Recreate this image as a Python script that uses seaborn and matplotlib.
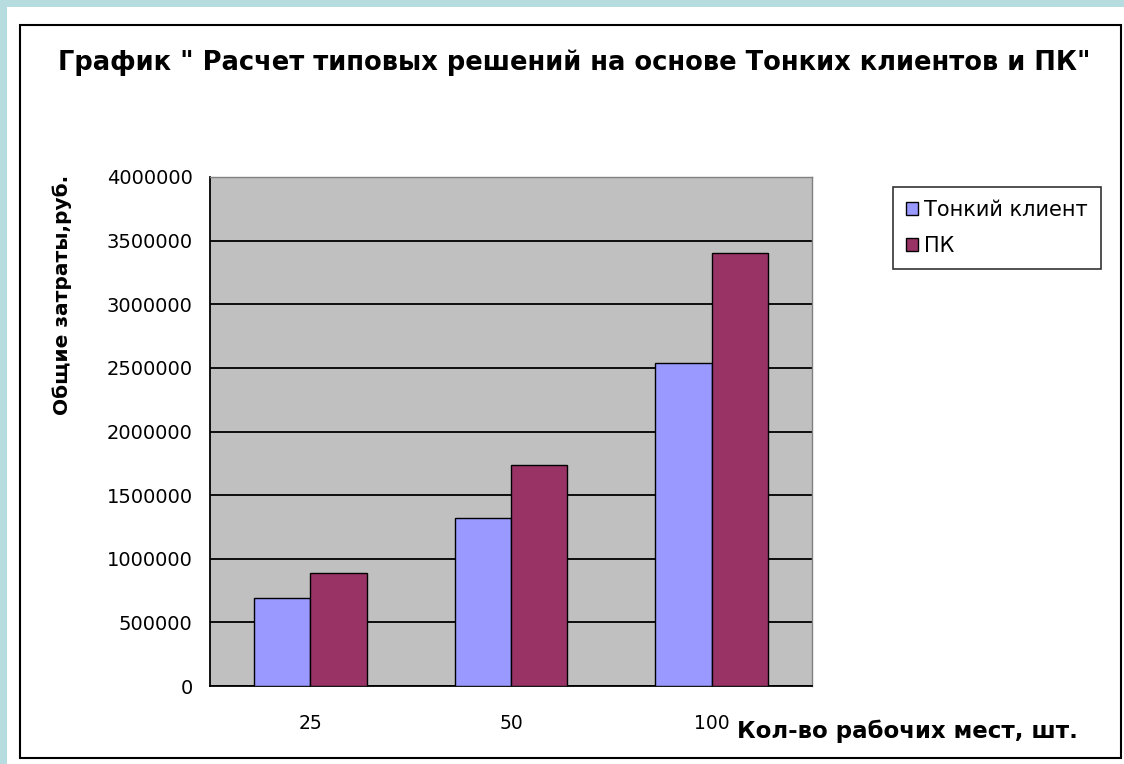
import matplotlib
matplotlib.use("Agg")
import matplotlib.pyplot as plt
import pandas as pd
import seaborn as sns
from matplotlib.patches import Rectangle
from matplotlib.ticker import FixedLocator

# data
places = ["25", "50", "100"]
thin_client = [690000, 1320000, 2540000]
pc = [890000, 1740000, 3400000]
series_names = ["Тонкий клиент", "ПК"]
colors = ["#9999FF", "#993366"]
y_ticks = list(range(0, 4000001, 500000))

df = pd.DataFrame({
    "places": places * 2,
    "cost": thin_client + pc,
    "type": [series_names[0]] * 3 + [series_names[1]] * 3,
})

sns.set_style("white")
plt.rcParams["font.family"] = ["DejaVu Sans"]
plt.rcParams["text.color"] = "black"
plt.rcParams["xtick.color"] = "black"
plt.rcParams["ytick.color"] = "black"

W, H = 1124, 764
fig = plt.figure(figsize=(W / 100, H / 100), dpi=100, facecolor="white")

# teal page strips and the black chart frame
fig.patches.append(Rectangle((0, 0), 7 / W, 1, transform=fig.transFigure,
                             facecolor="#B7DCE0", edgecolor="none", zorder=0))
fig.patches.append(Rectangle((0, 1 - 7 / H), 1, 7 / H, transform=fig.transFigure,
                             facecolor="#B7DCE0", edgecolor="none", zorder=0))
fig.patches.append(Rectangle((20 / W, 6 / H), 1101 / W, 733 / H, transform=fig.transFigure,
                             facecolor="none", edgecolor="black", linewidth=1.5, zorder=1))

ax = fig.add_axes([210 / W, (H - 686) / H, 602 / W, 509 / H])
ax.set_facecolor("#C0C0C0")

sns.barplot(data=df, x="places", y="cost", hue="type", palette=colors, saturation=1,
            width=0.56, gap=0, edgecolor="black", linewidth=1, ax=ax, zorder=3)

ax.set_ylim(0, 4000000)
ax.set_xlim(-0.5, 2.5)
ax.set_yticks(y_ticks)
ax.set_yticklabels([str(v) for v in y_ticks], fontsize=14)
ax.grid(axis="y", color="black", linewidth=1.3, zorder=1)
ax.set_axisbelow(True)

ax.tick_params(axis="x", which="major", length=0, labelsize=13.5, pad=20)
ax.xaxis.set_minor_locator(FixedLocator([-0.5, 0.5, 1.5, 2.5]))
ax.tick_params(axis="x", which="minor", length=6, width=1.2, direction="out", color="black")
ax.tick_params(axis="y", length=9, width=1.2, direction="inout", color="black", pad=8)

for side in ["left", "bottom"]:
    ax.spines[side].set_color("black")
    ax.spines[side].set_linewidth(1.3)
for side in ["top", "right"]:
    ax.spines[side].set_color("#808080")
    ax.spines[side].set_linewidth(1.0)

ax.set_xlabel("")
ax.set_ylabel("")

leg = ax.legend(loc="upper left", bbox_to_anchor=(893 / W, (H - 187) / H),
                bbox_transform=fig.transFigure, frameon=True, fancybox=False,
                fontsize=15, handlelength=0.6, handleheight=0.6,
                handletextpad=0.3, borderpad=0.6, labelspacing=0.8,
                borderaxespad=0)
leg.get_frame().set_edgecolor("black")
leg.get_frame().set_linewidth(1.2)

fig.text(574 / W, 1 - 63 / H, 'График " Расчет типовых решений на основе Тонких клиентов и ПК"',
         ha="center", va="center", fontsize=18.5, fontweight="bold")
fig.text(62 / W, 1 - 295 / H, "Общие затраты,руб.", rotation=90,
         ha="center", va="center", fontsize=14.5, fontweight="bold")
fig.text(737 / W, 1 - 731 / H, "Кол-во рабочих мест, шт.",
         ha="left", va="center", fontsize=16.5, fontweight="bold")

fig.savefig("out.png", dpi=100, facecolor="white")
